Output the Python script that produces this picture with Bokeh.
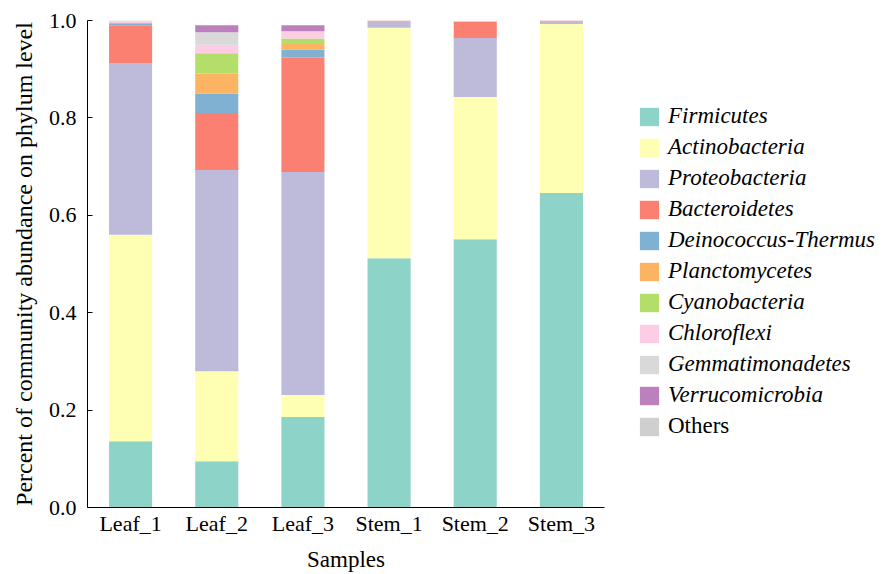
from bokeh.plotting import figure
from bokeh.layouts import row
from bokeh.models import (ColumnDataSource, FactorRange, Range1d, Legend, LegendItem,
                          FixedTicker, PrintfTickFormatter)
from bokeh.embed import file_html
from bokeh.resources import INLINE

samples = ["Leaf_1", "Leaf_2", "Leaf_3", "Stem_1", "Stem_2", "Stem_3"]

phyla = ["Firmicutes", "Actinobacteria", "Proteobacteria", "Bacteroidetes",
         "Deinococcus-Thermus", "Planctomycetes", "Cyanobacteria", "Chloroflexi",
         "Gemmatimonadetes", "Verrucomicrobia", "Others"]

firmicutes = [0.136, 0.095, 0.186, 0.512, 0.551, 0.646]
actinobacteria = [0.424, 0.185, 0.045, 0.473, 0.292, 0.347]
proteobacteria = [0.352, 0.413, 0.458, 0.013, 0.121, 0.006]
bacteroidetes = [0.078, 0.117, 0.235, 0.002, 0.034, 0.001]
deinococcus_thermus = [0.003, 0.040, 0.016, 0.0, 0.0, 0.0]
planctomycetes = [0.002, 0.041, 0.012, 0.0, 0.0, 0.0]
cyanobacteria = [0.0, 0.042, 0.011, 0.0, 0.0, 0.0]
chloroflexi = [0.003, 0.017, 0.015, 0.0, 0.001, 0.0]
gemmatimonadetes = [0.0, 0.026, 0.0, 0.0, 0.0, 0.0]
verrucomicrobia = [0.0, 0.014, 0.012, 0.0, 0.0, 0.0]
others = [0.002, 0.0, 0.0, 0.0, 0.0, 0.0]

colors = ["#8dd3c7", "#ffffb3", "#bebada", "#fb8072", "#80b1d3", "#fdb462",
          "#b3de69", "#fccde5", "#d9d9d9", "#bc80bd", "#cfcfcf"]

y_ticks = [0.0, 0.2, 0.4, 0.6, 0.8, 1.0]

series = [firmicutes, actinobacteria, proteobacteria, bacteroidetes, deinococcus_thermus,
          planctomycetes, cyanobacteria, chloroflexi, gemmatimonadetes, verrucomicrobia, others]
keys = ["s%d" % i for i in range(len(phyla))]
data = {"sample": samples}
for k, s in zip(keys, series):
    data[k] = s
source = ColumnDataSource(data)

FONT = "'Liberation Serif', 'Times New Roman', Times, serif"

p = figure(x_range=FactorRange(*samples), y_range=Range1d(0, 1),
           width=608, height=574,
           min_border_left=87, min_border_right=4, min_border_top=20, min_border_bottom=66,
           output_backend="svg", toolbar_location=None)

renderers = p.vbar_stack(keys, x="sample", width=0.5, color=colors, source=source,
                         line_color=None)

p.xgrid.grid_line_color = None
p.ygrid.grid_line_color = None
p.outline_line_color = None

# y axis
ya = p.yaxis[0]
ya.ticker = FixedTicker(ticks=y_ticks)
ya.formatter = PrintfTickFormatter(format="%.1f")
ya.major_tick_in = 5
ya.major_tick_out = 0
ya.minor_tick_line_color = None
ya.axis_line_color = "black"
ya.major_tick_line_color = "black"
ya.major_label_standoff = 11
ya.major_label_text_font = FONT
ya.major_label_text_font_size = "22px"
ya.major_label_text_color = "black"
ya.axis_label = "Percent of community abundance on phylum level"
ya.axis_label_text_font = FONT
ya.axis_label_text_font_size = "24px"
ya.axis_label_text_font_style = "normal"
ya.axis_label_text_color = "black"
ya.axis_label_standoff = 9

# x axis
xa = p.xaxis[0]
xa.major_tick_in = 0
xa.major_tick_out = 0
xa.major_tick_line_color = None
xa.minor_tick_line_color = None
xa.axis_line_color = "black"
xa.major_label_standoff = 3
xa.major_label_text_font = FONT
xa.major_label_text_font_size = "22px"
xa.major_label_text_color = "black"
xa.axis_label = "Samples"
xa.axis_label_text_font = FONT
xa.axis_label_text_font_size = "23px"
xa.axis_label_text_font_style = "normal"
xa.axis_label_text_color = "black"
xa.axis_label_standoff = 8

# legend panel (separate canvas to the right of the chart)
p2 = figure(width=277, height=574, x_range=Range1d(0, 1), y_range=Range1d(0, 1),
            x_axis_location=None, y_axis_location=None, min_border=0,
            output_backend="svg", toolbar_location=None)
p2.xgrid.grid_line_color = None
p2.ygrid.grid_line_color = None
p2.outline_line_color = None
# zero-size proxy glyphs, only used to give the legend its colour swatches
proxies = [p2.vbar(x=[0], bottom=[0], top=[0], width=0, color=c, line_color=None)
           for c in colors]


def make_legend(items, loc, style):
    lg = Legend(items=items, location=loc)
    lg.glyph_width = 24
    lg.glyph_height = 23
    lg.label_height = 23
    lg.spacing = 5
    lg.padding = 0
    lg.margin = 0
    lg.label_standoff = 7
    lg.border_line_color = None
    lg.background_fill_alpha = 0
    lg.label_text_font = FONT
    lg.label_text_font_size = "23px"
    lg.label_text_font_style = style
    lg.label_text_color = "black"
    return lg


items1 = [LegendItem(label=phyla[i], renderers=[proxies[i]]) for i in range(10)]
items2 = [LegendItem(label=phyla[10], renderers=[proxies[10]])]
p2.add_layout(make_legend(items1, (29, 99), "italic"))
p2.add_layout(make_legend(items2, (29, 68), "normal"))

layout = row(p, p2)
open("out.html", "w").write(file_html(layout, INLINE))
